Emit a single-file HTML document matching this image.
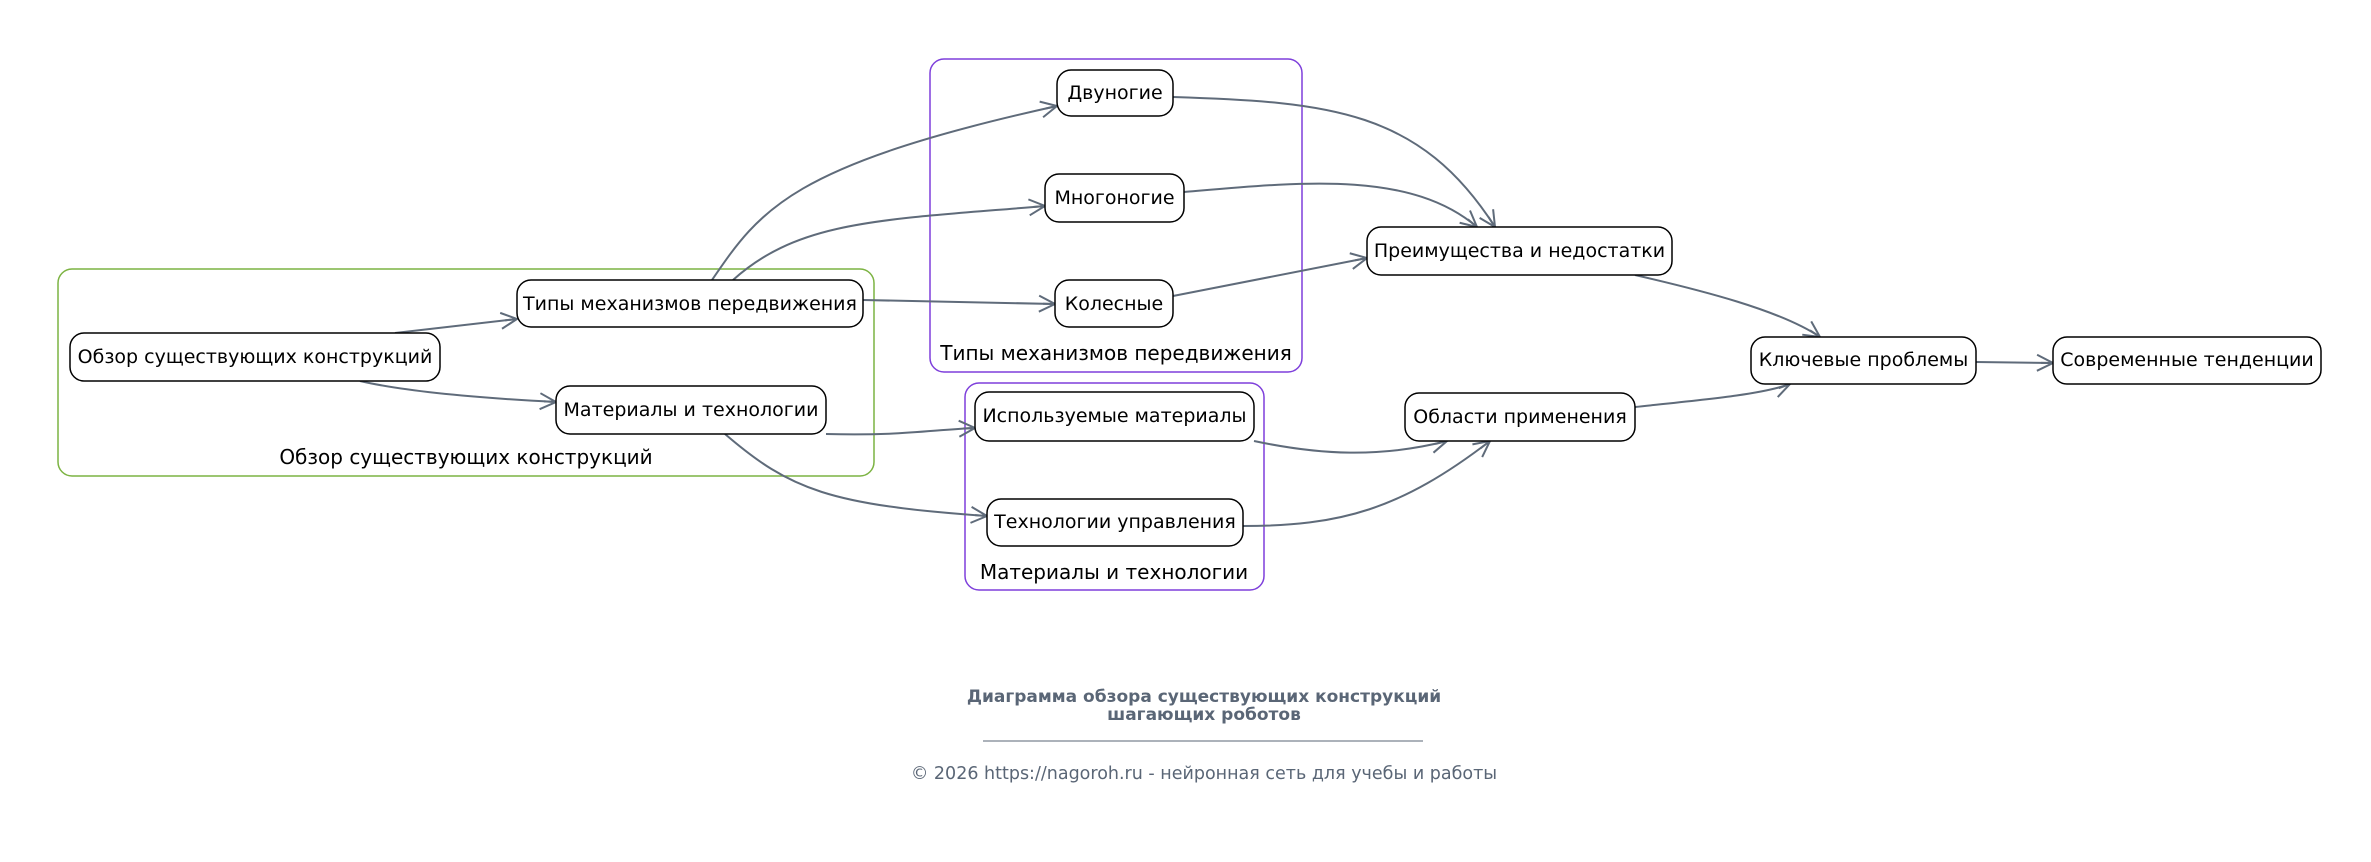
<!DOCTYPE html>
<html><head><meta charset="utf-8"><style>
body{margin:0;background:#fff;}
svg text{font-family:"DejaVu Sans","Liberation Sans",sans-serif;}
</style></head><body>
<svg width="2371" height="857" viewBox="0 0 2371 857" xmlns="http://www.w3.org/2000/svg">
<defs>
<marker id="a" viewBox="0 0 20 20" refX="18" refY="10" markerWidth="20" markerHeight="20" markerUnits="userSpaceOnUse" orient="auto">
<path d="M2,2 L18,10 L2,18 M6,10 L18,10" fill="none" stroke="#5f6b7a" stroke-width="2"/>
</marker>
</defs>
<rect width="2371" height="857" fill="#fff"/>
<rect x="58" y="269" width="816" height="207" rx="14" fill="none" stroke="#7cb342" stroke-width="1.5"/>
<text x="466" y="464" font-size="20" text-anchor="middle">Обзор существующих конструкций</text>
<rect x="930" y="59" width="372" height="313" rx="14" fill="none" stroke="#7e3fdb" stroke-width="1.5"/>
<text x="1116" y="360" font-size="20" text-anchor="middle">Типы механизмов передвижения</text>
<rect x="965" y="383" width="299" height="207" rx="14" fill="none" stroke="#7e3fdb" stroke-width="1.5"/>
<text x="1114" y="579" font-size="20" text-anchor="middle">Материалы и технологии</text>
<g fill="none" stroke="#5f6b7a" stroke-width="2" marker-end="url(#a)">
<path d="M395,333 L517,319"/>
<path d="M360,381 Q420,395 556,402"/>
<path d="M712,280 C760,210 790,165 1057,106"/>
<path d="M733,280 C800,220 880,220 1045,206"/>
<path d="M863,300 L1055,304"/>
<path d="M826,434 C900,436 930,430 975,428"/>
<path d="M725,434 C790,490 830,505 987,516"/>
<path d="M1173,97 C1330,102 1420,110 1495,227"/>
<path d="M1184,192 C1300,182 1410,170 1477,227"/>
<path d="M1173,296 L1367,258"/>
<path d="M1635,275 C1700,290 1780,310 1820,337"/>
<path d="M1254,441 C1320,455 1380,458 1447,441"/>
<path d="M1243,526 C1340,526 1400,510 1490,441"/>
<path d="M1635,407 C1700,400 1760,395 1790,384"/>
<path d="M1976,362 L2053,363"/>
</g>
<g fill="#fff" stroke="#000" stroke-width="1.5">
<rect x="70" y="333" width="370" height="48" rx="14"/>
<rect x="517" y="280" width="346" height="47" rx="14"/>
<rect x="556" y="386" width="270" height="48" rx="14"/>
<rect x="1057" y="70" width="116" height="46" rx="14"/>
<rect x="1045" y="174" width="139" height="48" rx="14"/>
<rect x="1055" y="280" width="118" height="47" rx="14"/>
<rect x="975" y="392" width="279" height="49" rx="14"/>
<rect x="987" y="499" width="256" height="47" rx="14"/>
<rect x="1367" y="227" width="305" height="48" rx="14"/>
<rect x="1405" y="393" width="230" height="48" rx="14"/>
<rect x="1751" y="337" width="225" height="47" rx="14"/>
<rect x="2053" y="337" width="268" height="47" rx="14"/>
</g>
<g font-size="19" text-anchor="middle" fill="#000">
<text x="255" y="363">Обзор существующих конструкций</text>
<text x="690" y="310">Типы механизмов передвижения</text>
<text x="691" y="416">Материалы и технологии</text>
<text x="1115" y="99">Двуногие</text>
<text x="1114.5" y="204">Многоногие</text>
<text x="1114" y="310">Колесные</text>
<text x="1114.5" y="422">Используемые материалы</text>
<text x="1115" y="528">Технологии управления</text>
<text x="1519.5" y="257">Преимущества и недостатки</text>
<text x="1520" y="423">Области применения</text>
<text x="1863.5" y="366">Ключевые проблемы</text>
<text x="2187" y="366">Современные тенденции</text>
</g>
<g text-anchor="middle" fill="#5a6676">
<text x="1204" y="702" font-size="17" font-weight="bold">Диаграмма обзора существующих конструкций</text>
<text x="1204" y="720" font-size="17" font-weight="bold">шагающих роботов</text>
<line x1="983" y1="741" x2="1423" y2="741" stroke="#5a6676" stroke-width="1"/>
<text x="1204" y="779" font-size="17.5">© 2026 https://nagoroh.ru - нейронная сеть для учебы и работы</text>
</g>
</svg>
</body></html>
